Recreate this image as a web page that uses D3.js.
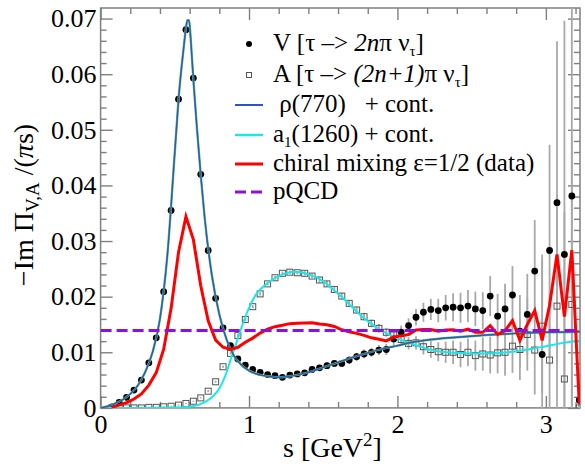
<!DOCTYPE html>
<html><head><meta charset="utf-8">
<script src="https://cdn.jsdelivr.net/npm/d3@7"></script>
<style>
html,body{margin:0;padding:0;background:#fff;}
svg{display:block;}
svg text{font-family:"Liberation Serif","DejaVu Serif",serif !important;white-space:pre;}
</style></head><body>
<svg id="c" width="585" height="466" font-family="Liberation Serif, DejaVu Serif, serif"></svg>
<script>
// ---- data ----
const sBins = [0.075,0.125,0.175,0.225,0.275,0.325,0.375,0.425,0.475,0.525,0.575,0.625,0.675,0.725,0.775,0.825,0.875,0.925,0.975,1.025,1.075,1.125,1.175,1.225,1.275,1.325,1.375,1.425,1.475,1.525,1.575,1.625,1.675,1.725,1.775,1.825,1.875,1.925,1.975,2.025,2.075,2.125,2.175,2.225,2.275,2.325,2.375,2.425,2.475,2.525,2.575,2.625,2.675,2.725,2.775,2.825,2.875,2.925,2.975,3.025,3.075,3.125,3.175,3.225];
const vectorV = [0.0002,0.001,0.0019,0.0032,0.005,0.0081,0.0126,0.0209,0.0355,0.0555,0.068,0.0593,0.042,0.0283,0.0197,0.0144,0.0112,0.0088,0.0077,0.0069,0.0064,0.006,0.0058,0.0055,0.0059,0.0061,0.0063,0.0069,0.0072,0.0076,0.008,0.008,0.0086,0.0092,0.0097,0.01,0.0104,0.0105,0.0124,0.0136,0.0148,0.0163,0.0172,0.0177,0.0175,0.018,0.0181,0.018,0.0183,0.0178,0.0175,0.0201,0.0165,0.0178,0.0203,0.0138,0.0168,0.0246,0.0096,0.0283,0.0369,0.0276,0.0381,0.0014];
const vectorErr = [0.0001,0.0001,0.0001,0.0001,0.0001,0.0002,0.0002,0.0003,0.0004,0.0005,0.0005,0.0005,0.0004,0.0003,0.0003,0.0002,0.0002,0.0002,0.0002,0.0002,0.0002,0.0002,0.0002,0.0003,0.0003,0.0003,0.0003,0.0004,0.0005,0.0005,0.0006,0.0006,0.0007,0.0007,0.0008,0.0008,0.0009,0.001,0.0011,0.0012,0.0013,0.0015,0.0017,0.0019,0.0021,0.0023,0.0025,0.0027,0.0029,0.0031,0.0033,0.0036,0.004,0.0045,0.0052,0.0065,0.0073,0.0092,0.018,0.019,0.029,0.042,0.046,0.002];
const axialA = [0,0,0,0,0,0.0001,0.0001,0.0002,0.0003,0.0005,0.0008,0.0012,0.0018,0.003,0.0047,0.0074,0.0098,0.013,0.0159,0.0182,0.0205,0.0223,0.0234,0.0242,0.0244,0.0243,0.0242,0.0237,0.023,0.0223,0.0213,0.0201,0.0188,0.0176,0.0164,0.0152,0.0143,0.0136,0.0131,0.0123,0.0116,0.0117,0.011,0.0105,0.0101,0.01,0.01,0.0096,0.01,0.0094,0.0097,0.0095,0.0099,0.01,0.0111,0.0105,0.0132,0.0104,0.0147,0.0086,0.0183,0.0052,0.0186,0.0];
const axialErr = [0.0001,0.0001,0.0001,0.0001,0.0001,0.0001,0.0001,0.0001,0.0001,0.0001,0.0001,0.0001,0.0001,0.0002,0.0002,0.0002,0.0002,0.0003,0.0003,0.0003,0.0003,0.0003,0.0003,0.0003,0.0003,0.0003,0.0004,0.0004,0.0005,0.0005,0.0005,0.0006,0.0006,0.0006,0.0007,0.0007,0.0008,0.0008,0.0009,0.001,0.0011,0.0012,0.0014,0.0015,0.0017,0.0019,0.0021,0.0023,0.0025,0.0027,0.003,0.0033,0.0037,0.0042,0.0048,0.0055,0.0065,0.008,0.012,0.012,0.02,0.03,0.03,0.002];
const chiralMix = [0.0001,0.0005,0.00095,0.0016,0.0025,0.0041,0.00635,0.01055,0.0179,0.028,0.0344,0.03025,0.0219,0.01565,0.0122,0.0109,0.0105,0.0109,0.0118,0.01255,0.01345,0.01415,0.0146,0.01485,0.01515,0.0152,0.01525,0.0153,0.0151,0.01495,0.01465,0.01405,0.0137,0.0134,0.01305,0.0126,0.01235,0.01205,0.01275,0.01295,0.0132,0.014,0.0141,0.0141,0.0138,0.014,0.01405,0.0138,0.01415,0.0136,0.0136,0.0148,0.0132,0.0139,0.0157,0.01215,0.015,0.0175,0.01215,0.01845,0.0276,0.0164,0.02835,0.0007];
const rhoS = [0,0.05,0.1,0.15,0.2,0.25,0.3,0.35,0.4,0.45,0.5,0.53,0.56,0.575,0.585,0.595,0.61,0.625,0.65,0.675,0.7,0.75,0.8,0.85,0.9,0.95,1.0,1.05,1.1,1.15,1.2,1.25,1.3,1.4,1.5,1.6,1.7,1.8,1.9,2.0,2.1,2.2,2.4,2.6,2.8,3.0,3.23];
const rhoV = [0,0.0003,0.0008,0.0015,0.0025,0.004,0.0064,0.01,0.016,0.0275,0.046,0.057,0.0648,0.0683,0.0697,0.0697,0.0652,0.059,0.05,0.0418,0.0345,0.0238,0.0168,0.0122,0.0093,0.0077,0.0067,0.0061,0.0058,0.0056,0.0055,0.0056,0.0058,0.0064,0.0073,0.0082,0.0091,0.0099,0.0106,0.0112,0.0118,0.0122,0.0127,0.0131,0.0134,0.0136,0.0137];
const a1S = [0,0.3,0.5,0.6,0.7,0.75,0.8,0.825,0.85,0.875,0.9,0.925,0.95,1.0,1.05,1.1,1.15,1.2,1.25,1.3,1.35,1.4,1.45,1.5,1.55,1.6,1.65,1.7,1.75,1.8,1.85,1.9,1.95,2.0,2.1,2.2,2.3,2.4,2.5,2.6,2.7,2.8,2.9,3.0,3.1,3.23];
const a1V = [0,0,0.00005,0.0002,0.001,0.0019,0.0035,0.0048,0.0065,0.0086,0.0105,0.0125,0.0145,0.018,0.0205,0.0219,0.0229,0.0237,0.0242,0.0245,0.0244,0.024,0.0235,0.0227,0.0217,0.0205,0.0193,0.018,0.0167,0.0156,0.0146,0.0138,0.0131,0.0125,0.0115,0.0106,0.0101,0.0099,0.0098,0.0098,0.0099,0.0102,0.0106,0.0111,0.0116,0.0121];
const pqcdLevel = [0.0139];
const xTicks = [0,1,2,3];
const yTicks = [0,0.01,0.02,0.03,0.04,0.05,0.06,0.07];

// ---- drawing ----
const FONT = "Liberation Serif, DejaVu Serif, serif";
const svg = d3.select("#c");
const x = d3.scaleLinear().domain([0,3.23]).range([100.6,580]);
const y = d3.scaleLinear().domain([0,0.0719]).range([407.9,8]);
const X0 = x.range()[0], X1 = x.range()[1], Y0 = y.range()[0], Y1 = y.range()[1];
const axisCol = "#808080";

svg.append("defs").append("clipPath").attr("id","clip")
  .append("rect").attr("x",X0).attr("y",Y1).attr("width",X1-X0).attr("height",Y0-Y1);

const minorX = d3.range(0,3.23,0.2).filter(v=>Math.abs(v-Math.round(v))>1e-6);
const minorY = d3.range(0,0.0719,0.002).filter(v=>Math.abs(v*100-Math.round(v*100))>1e-6);
function styleAxis(g){
  g.attr("font-family",FONT);
  g.select(".domain").remove();
  g.selectAll("line").attr("stroke",axisCol).attr("stroke-width",1.4);
  g.selectAll("text").attr("fill","#000").attr("font-family",FONT).attr("font-size",26);
}
svg.append("g").attr("transform",`translate(0,${Y0})`).call(d3.axisBottom(x).tickValues(xTicks).tickFormat(d3.format("d")).tickSizeInner(-12).tickSizeOuter(0).tickPadding(7)).call(styleAxis);
svg.append("g").attr("transform",`translate(0,${Y0})`).call(d3.axisBottom(x).tickValues(minorX).tickFormat("").tickSizeInner(-6).tickSizeOuter(0)).call(styleAxis);
svg.append("g").attr("transform",`translate(0,${Y1})`).call(d3.axisTop(x).tickValues(xTicks).tickFormat("").tickSizeInner(-12).tickSizeOuter(0)).call(styleAxis);
svg.append("g").attr("transform",`translate(0,${Y1})`).call(d3.axisTop(x).tickValues(minorX).tickFormat("").tickSizeInner(-6).tickSizeOuter(0)).call(styleAxis);
svg.append("g").attr("transform",`translate(${X0},0)`).call(d3.axisLeft(y).tickValues(yTicks).tickFormat(d=>d===0?"0":d3.format(".2f")(d)).tickSizeInner(-12).tickSizeOuter(0).tickPadding(4)).call(styleAxis);
svg.append("g").attr("transform",`translate(${X0},0)`).call(d3.axisLeft(y).tickValues(minorY).tickFormat("").tickSizeInner(-6).tickSizeOuter(0)).call(styleAxis);
svg.append("g").attr("transform",`translate(${X1},0)`).call(d3.axisRight(y).tickValues(yTicks).tickFormat("").tickSizeInner(-12).tickSizeOuter(0)).call(styleAxis);
svg.append("g").attr("transform",`translate(${X1},0)`).call(d3.axisRight(y).tickValues(minorY).tickFormat("").tickSizeInner(-6).tickSizeOuter(0)).call(styleAxis);
svg.append("rect").attr("x",X0).attr("y",Y1).attr("width",X1-X0).attr("height",Y0-Y1)
  .attr("fill","none").attr("stroke",axisCol).attr("stroke-width",1.5);

const plot = svg.append("g").attr("clip-path","url(#clip)");
const idx = d3.range(sBins.length);

// error bars
plot.append("g").selectAll("line").data(idx).join("line")
  .attr("x1",i=>x(sBins[i])).attr("x2",i=>x(sBins[i]))
  .attr("y1",i=>y(axialA[i]-axialErr[i])).attr("y2",i=>y(axialA[i]+axialErr[i]))
  .attr("stroke","#a8a8a8").attr("stroke-width",1.8);
plot.append("g").selectAll("line").data(idx).join("line")
  .attr("x1",i=>x(sBins[i])).attr("x2",i=>x(sBins[i]))
  .attr("y1",i=>y(vectorV[i]-vectorErr[i])).attr("y2",i=>y(vectorV[i]+vectorErr[i]))
  .attr("stroke","#a8a8a8").attr("stroke-width",1.8);
plot.append("g").selectAll("rect").data(idx).join("rect")
  .attr("x",i=>x(sBins[i])-3).attr("y",i=>y(axialA[i])-3).attr("width",6).attr("height",6)
  .attr("fill","none").attr("stroke","#555").attr("stroke-width",1);
plot.append("g").selectAll("circle").data(idx).join("circle")
  .attr("cx",i=>x(sBins[i])).attr("cy",i=>y(vectorV[i])).attr("r",3.4).attr("fill","#000");

// curves
const smooth = d3.line().curve(d3.curveMonotoneX);
const a1Pts = a1S.map((s,i)=>[x(s),y(a1V[i])]);
const rhoPts = rhoS.map((s,i)=>[x(s),y(rhoV[i])]);
plot.append("path").attr("d",smooth(a1Pts)).attr("fill","none").attr("stroke","#19e8e8").attr("stroke-width",2);
plot.append("path").attr("d",smooth(rhoPts)).attr("fill","none").attr("stroke","#5cc65c").attr("stroke-width",2.4);
plot.append("path").attr("d",smooth(rhoPts)).attr("fill","none").attr("stroke","#3452c8").attr("stroke-width",1.4);
plot.append("path").attr("d",d3.line()(sBins.map((s,i)=>[x(s),y(chiralMix[i])])))
  .attr("fill","none").attr("stroke","#ff0000").attr("stroke-width",3);
plot.append("g").selectAll("line").data(pqcdLevel).join("line")
  .attr("x1",X0).attr("x2",X1).attr("y1",d=>y(d)).attr("y2",d=>y(d))
  .attr("stroke","#8f10d6").attr("stroke-width",3).attr("stroke-dasharray","11,5");

// legend
const leg = svg.append("g").attr("font-size",25).attr("font-family",FONT).attr("fill","#000");
leg.append("circle").attr("cx",249).attr("cy",44).attr("r",3).attr("fill","#000");
leg.append("rect").attr("x",246.5).attr("y",72.5).attr("width",5).attr("height",5).attr("fill","none").attr("stroke","#555").attr("stroke-width",1);
const legLines = [[105,"#3452c8",2,null],[135,"#19e8e8",2.4,null],[164,"#ff0000",3,null],[192,"#8f10d6",3,"11,5"]];
legLines.forEach(([yy,c,w,da])=>{
  const l = leg.append("line").attr("x1",235).attr("x2",263).attr("y1",yy).attr("y2",yy).attr("stroke",c).attr("stroke-width",w);
  if(da) l.attr("stroke-dasharray",da);
});
function legText(yy, parts){
  const t = leg.append("text").attr("x",273).attr("y",yy+7).attr("font-family",FONT);
  parts.forEach(p=>{
    const ts = t.append("tspan").text(p.t);
    if(p.i) ts.attr("font-style","italic");
    if(p.sub){ ts.attr("font-size",15).attr("dy",5); }
    if(p.back){ ts.attr("dy",-5); }
  });
}
legText(44,[{t:"V [τ –> "},{t:"2n",i:true},{t:"π ν"},{t:"τ",sub:true},{t:"]",back:true}]);
legText(75,[{t:"A [τ –> "},{t:"(2n+1)",i:true},{t:"π ν"},{t:"τ",sub:true},{t:"]",back:true}]);
legText(105,[{t:" ρ(770)   + cont."}]);
legText(135,[{t:"a"},{t:"1",sub:true},{t:"(1260) + cont.",back:true}]);
legText(164,[{t:"chiral mixing ε=1/2 (data)"}]);
legText(192,[{t:"pQCD"}]);

// axis titles
const xt = svg.append("text").attr("x",283).attr("y",457).attr("font-size",28).attr("font-family",FONT).attr("fill","#000");
xt.append("tspan").text("s [GeV");
xt.append("tspan").text("2").attr("font-size",19).attr("dy",-11);
xt.append("tspan").text("]").attr("dy",11);

const yt = svg.append("text").attr("transform","translate(33,205) rotate(-90)").attr("text-anchor","middle").attr("font-size",28).attr("font-family",FONT).attr("fill","#000");
yt.append("tspan").text("−Im Π");
yt.append("tspan").text("V,A").attr("font-size",19).attr("dy",6);
yt.append("tspan").text(" /(").attr("dy",-6);
yt.append("tspan").text("π").attr("font-style","italic");
yt.append("tspan").text("s)");
</script>
</body></html>
